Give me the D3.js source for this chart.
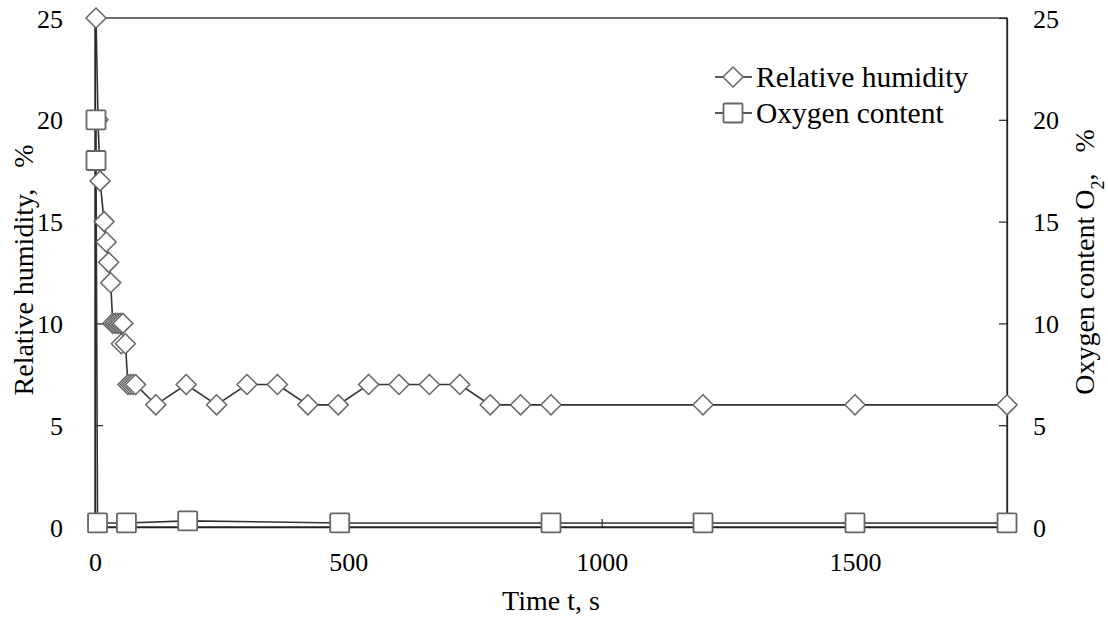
<!DOCTYPE html>
<html><head><meta charset="utf-8">
<script src="https://cdn.jsdelivr.net/npm/d3@7"></script>
<style>body{margin:0;background:#fff}svg{display:block}</style>
</head><body>
<svg id="c" width="1108" height="617"></svg>
<script>
const humTime = [2,6,10,18,22,27,31,35,40,45,50,55,52,60,65,70,75,80,120,180,240,300,360,420,480,540,600,660,720,780,840,900,1200,1500,1800];
const humValue = [25,20,17,15,14,13,12,10,10,10,10,10,9,9,7,7,7,7,6,7,6,7,7,6,6,7,7,7,7,6,6,6,6,6,6];
const oxyTime = [2,2,5,62,183,483,900,1200,1500,1800];
const oxyValue = [20,18,0.2,0.2,0.3,0.2,0.2,0.2,0.2,0.2];
const xTicks = [0,500,1000,1500];
const yTicks = [0,5,10,15,20,25];

const FF = '"Liberation Serif","Times New Roman",serif';
const svg = d3.select("#c");
const L=95,R=1007,T=18,B=527;
const x = d3.scaleLinear().domain([0,1800]).range([L,R]);
const y = d3.scaleLinear().domain([0,25]).range([B,T]);

svg.append("rect").attr("x",L).attr("y",T).attr("width",R-L).attr("height",B-T)
  .attr("fill","none").attr("stroke","#222").attr("stroke-width",1.3);

const fs = 26;
const fmt = d3.format("d");
const xa = svg.append("g").attr("transform",`translate(0,${B})`)
  .call(d3.axisBottom(x).tickValues(xTicks).tickFormat(fmt).tickSizeInner(-8).tickSizeOuter(0));
const ya = svg.append("g").attr("transform",`translate(${L},0)`)
  .call(d3.axisLeft(y).tickValues(yTicks).tickFormat(fmt).tickSizeInner(-8).tickSizeOuter(0).tickPadding(32));
const yr = svg.append("g").attr("transform",`translate(${R},0)`)
  .call(d3.axisRight(y).tickValues(yTicks).tickFormat(fmt).tickSizeInner(-8).tickSizeOuter(0).tickPadding(26));
[xa,ya,yr].forEach(g=>{
  g.attr("font-family",null).attr("font-size",null);
  g.select(".domain").attr("stroke","#222").attr("stroke-width",1.3);
  g.selectAll(".tick line").attr("stroke","#222").attr("stroke-width",1.2);
  g.selectAll(".tick text").style("font-family",FF).style("font-size",fs+"px").attr("fill","#000");
});
xa.selectAll(".tick text").attr("y",35).attr("dy","0.35em");
ya.selectAll(".tick text").attr("dy","0.35em");
yr.selectAll(".tick text").attr("dy","0.35em");

function T_(sel){return sel.style("font-family",FF).style("white-space","pre").attr("fill","#000");}
T_(svg.append("text")).attr("x",551).attr("y",610).attr("text-anchor","middle")
  .style("font-size","28px").text("Time t, s");
T_(svg.append("text")).attr("transform","translate(33,270) rotate(-90)").attr("text-anchor","middle")
  .style("font-size","28px").text("Relative humidity,   %");
const rt = T_(svg.append("text")).attr("transform","translate(1094,262) rotate(-90)").attr("text-anchor","middle")
  .style("font-size","28px");
rt.append("tspan").text("Oxygen content O");
rt.append("tspan").attr("baseline-shift","sub").style("font-size","18px").text("2");
rt.append("tspan").text(",   %");

const lineCol="#333", markCol="#666";
const hum = humTime.map((t,i)=>[t,humValue[i]]);
const oxy = oxyTime.map((t,i)=>[t,oxyValue[i]]);
const line = d3.line().x(d=>x(d[0])).y(d=>y(d[1]));

svg.append("path").datum(hum).attr("d",line).attr("fill","none").attr("stroke",lineCol).attr("stroke-width",1.6);
svg.append("path").datum(oxy).attr("d",line).attr("fill","none").attr("stroke",lineCol).attr("stroke-width",1.6);

const D=10;
function diamond(g,cx,cy){
  g.append("path").attr("d",`M${cx},${cy-D}L${cx+D},${cy}L${cx},${cy+D}L${cx-D},${cy}Z`)
   .attr("fill","#fff").attr("stroke",markCol).attr("stroke-width",1.5);
}
function square(g,cx,cy){
  g.append("rect").attr("x",cx-9.5).attr("y",cy-9.5).attr("width",19).attr("height",19).attr("rx",1)
   .attr("fill","#fff").attr("stroke",markCol).attr("stroke-width",1.8);
}
const gm = svg.append("g");
hum.forEach(d=>diamond(gm,x(d[0]),y(d[1])));
oxy.forEach(d=>square(gm,x(d[0]),y(d[1])));

const lg = svg.append("g");
[[77,"Relative humidity",diamond],[113,"Oxygen content",square]].forEach(([ly,txt,fn])=>{
  lg.append("line").attr("x1",715).attr("x2",752).attr("y1",ly).attr("y2",ly).attr("stroke","#222").attr("stroke-width",1.4);
  fn(lg,733,ly);
  T_(lg.append("text")).attr("x",756).attr("y",ly).attr("dy","0.35em").style("font-size","29.5px").text(txt);
});
</script>
</body></html>
